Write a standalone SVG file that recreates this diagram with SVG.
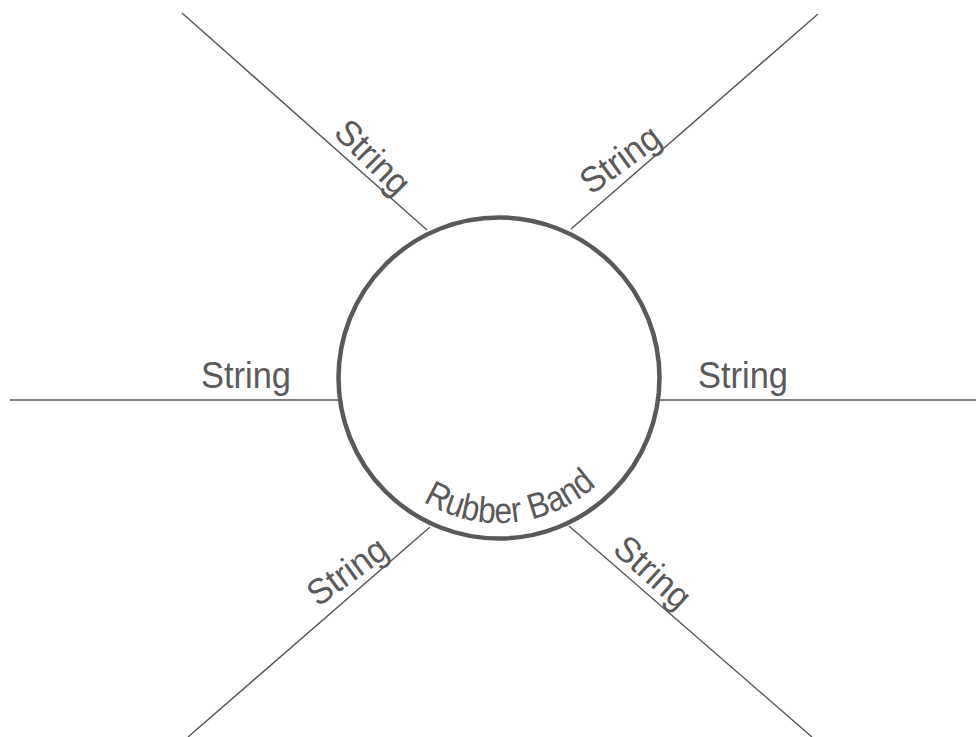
<svg xmlns="http://www.w3.org/2000/svg" width="976" height="737" viewBox="0 0 976 737">
  <style>
    .str { stroke: #555555; stroke-width: 1.4; fill: none; }
    .lbl { font-family: "Liberation Sans", Arial, sans-serif; font-size: 36px; fill: #5a5a5a; text-anchor: middle; }
    .band { stroke: #595959; stroke-width: 4.5; fill: none; }
  </style>
  <defs>
    <path id="bandPath" d="M387.9,471.2 A145,145 0 0 0 610.1,471.2"/>
  </defs>
  <rect width="976" height="737" fill="#ffffff"/>
  <g id="connectors">
    <g id="string-top-left">
      <line class="str" x1="182" y1="13" x2="427" y2="230"/>
      <text class="lbl" dominant-baseline="central" textLength="90" lengthAdjust="spacingAndGlyphs" transform="translate(373,157) rotate(45)">String</text>
    </g>
    <g id="string-top-right">
      <line class="str" x1="818" y1="14" x2="571" y2="229"/>
      <text class="lbl" dominant-baseline="central" textLength="90" lengthAdjust="spacingAndGlyphs" transform="translate(620,159) rotate(-36)">String</text>
    </g>
    <g id="string-left">
      <line class="str" x1="10" y1="400" x2="338" y2="400"/>
      <text class="lbl" x="246" y="388" textLength="90" lengthAdjust="spacingAndGlyphs">String</text>
    </g>
    <g id="string-right">
      <line class="str" x1="660" y1="400" x2="976" y2="400"/>
      <text class="lbl" x="743" y="388" textLength="90" lengthAdjust="spacingAndGlyphs">String</text>
    </g>
    <g id="string-bottom-left">
      <line class="str" x1="430" y1="527" x2="188" y2="737"/>
      <text class="lbl" dominant-baseline="central" textLength="90" lengthAdjust="spacingAndGlyphs" transform="translate(347,571) rotate(-36)">String</text>
    </g>
    <g id="string-bottom-right">
      <line class="str" x1="569" y1="526" x2="812" y2="737"/>
      <text class="lbl" dominant-baseline="central" textLength="90" lengthAdjust="spacingAndGlyphs" transform="translate(653,572) rotate(42)">String</text>
    </g>
  </g>
  <g id="rubber-band">
    <circle class="band" cx="499" cy="378" r="160.5"/>
    <text class="lbl" font-size="34"><textPath href="#bandPath" startOffset="55.3%" textLength="187" lengthAdjust="spacingAndGlyphs">Rubber Band</textPath></text>
  </g>
</svg>
